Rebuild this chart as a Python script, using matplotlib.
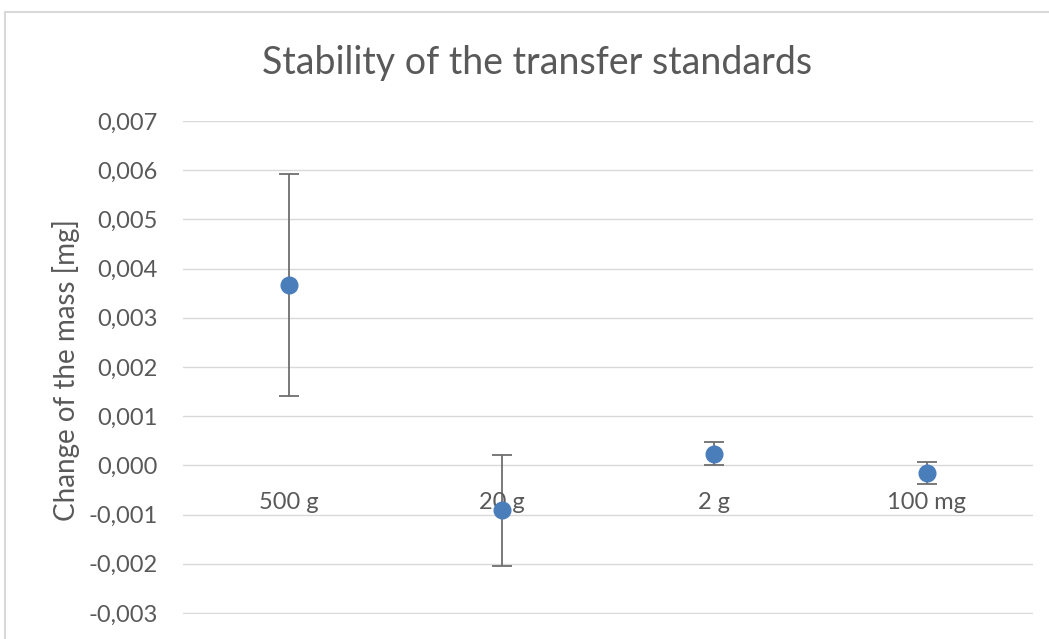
import matplotlib
matplotlib.use("Agg")
import matplotlib.pyplot as plt
from matplotlib.patches import Rectangle
from matplotlib.ticker import FuncFormatter

# Chart data
categories = ["500 g", "20 g", "2 g", "100 mg"]
changes = [0.00367, -0.00091, 0.00024, -0.00016]
uncertainty = [0.00226, 0.00113, 0.00024, 0.00022]

TEXT_GREY = "#595959"
GRID_GREY = "#d9d9d9"
POINT_BLUE = "#4a7ebb"

plt.rcParams["font.family"] = ["Lato", "DejaVu Sans"]

W, H = 1049, 639
fig = plt.figure(figsize=(W / 100, H / 100), dpi=100)

# chart frame (cut off at right and bottom like the reference)
fig.patches.append(Rectangle((5 / W, -0.1), 1.2, 1 - 12 / H + 0.1,
                             transform=fig.transFigure, fill=False,
                             edgecolor="#d9d9d9", linewidth=1.5))

left, right, top, bottom = 183, 1033, 121, 614
ax = fig.add_axes([left / W, 1 - bottom / H, (right - left) / W, (bottom - top) / H])

x = list(range(len(categories)))
ax.errorbar(x, changes, yerr=uncertainty, fmt="o", color=POINT_BLUE,
            markersize=12, ecolor="#6e6e6e", elinewidth=1.3, capsize=7,
            capthick=1.3, zorder=3)

ax.set_xlim(-0.5, len(categories) - 0.5)
ax.set_ylim(-0.00302, 0.007)
ax.set_yticks([i / 1000 for i in range(-3, 8)])
ax.yaxis.set_major_formatter(FuncFormatter(lambda v, p: f"{v:.3f}".replace(".", ",")))
ax.grid(axis="y", color=GRID_GREY, linewidth=1)
ax.set_axisbelow(True)
for s in ax.spines.values():
    s.set_visible(False)
ax.set_xticks([])
ax.tick_params(axis="y", length=0, pad=18, labelsize=17, labelcolor=TEXT_GREY)

# category labels sit just under the zero line, Excel style
for i, name in enumerate(categories):
    ax.annotate(name, xy=(i, 0), xytext=(0, -37), textcoords="offset pixels",
                ha="center", va="center", fontsize=17, color=TEXT_GREY)

# axis title placed directly in figure pixels
fig.text(66 / W, 1 - 370 / H, "Change of the mass [mg]", rotation=90,
         ha="center", va="center", fontsize=20, color=TEXT_GREY)
fig.text(537 / W, 1 - 63 / H, "Stability of the transfer standards",
         ha="center", va="center", fontsize=27, color=TEXT_GREY)

fig.savefig("out.png", dpi=100)
